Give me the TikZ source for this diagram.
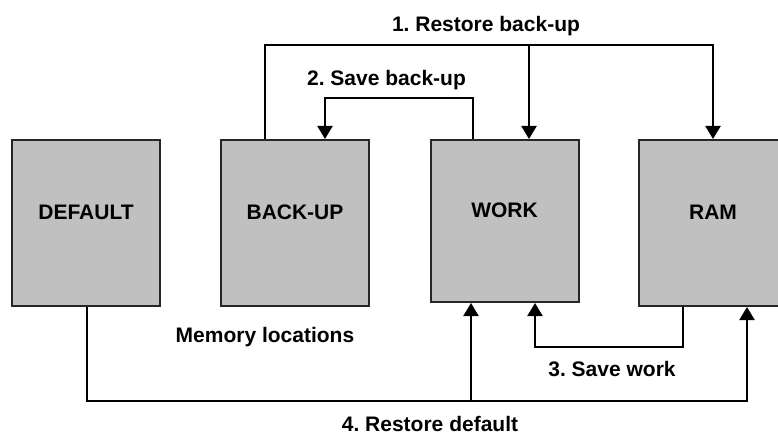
\documentclass[tikz,border=0pt]{standalone}
\usepackage{fontspec}
\setmainfont{Liberation Sans}
\usetikzlibrary{arrows.meta}
\definecolor{boxgrey}{RGB}{192,192,192}
\frenchspacing
\begin{document}
\begin{tikzpicture}[x=1pt,y=-1pt,
  every node/.style={font=\fontsize{21}{25}\selectfont\bfseries},
  membox/.style={draw=black!85, line width=2pt, fill=boxgrey,
    minimum width=148pt, minimum height=166pt, inner sep=0pt},
  boxlabel/.style={yshift=10.5pt, inner sep=0pt},
  flow/.style={line width=2.2pt},
  flowarrow/.style={flow, -{Triangle[width=15pt,length=13pt]}},
  caption/.style={anchor=base, inner sep=0pt}
]
\useasboundingbox (0,0) rectangle (778,435);

% memory blocks
\node[membox, label={[boxlabel]center:DEFAULT}] (default) at (86,223) {};
\node[membox, label={[boxlabel]center:BACK-UP}] (backup)  at (295,223) {};
\node[membox, minimum height=162pt, label={[boxlabel]center:WORK}] (work) at (504.5,221) {};
\node[membox, label={[boxlabel]center:RAM}] (ram) at (713,223) {};

% 1. restore back-up: BACK-UP -> WORK and RAM
\coordinate (r1a) at ([xshift=-30pt]backup.north |- 0,45);
\coordinate (r1b) at ([xshift=24.5pt]work.north |- 0,45);
\coordinate (r1c) at (ram.north |- 0,45);
\draw[flowarrow] ([xshift=-30pt]backup.north) -- (r1a) -- (r1c) -- (ram.north);
\draw[flowarrow] (r1b) -- ([xshift=24.5pt]work.north);

% 2. save back-up: WORK -> BACK-UP
\coordinate (s2a) at ([xshift=-31.5pt]work.north |- 0,98);
\coordinate (s2b) at ([xshift=30pt]backup.north |- 0,98);
\draw[flowarrow] ([xshift=-31.5pt]work.north) -- (s2a) -- (s2b) -- ([xshift=30pt]backup.north);

% 3. save work: RAM -> WORK
\coordinate (s3a) at ([xshift=-30pt]ram.south |- 0,347);
\coordinate (s3b) at ([xshift=30.5pt]work.south |- 0,347);
\draw[flowarrow] ([xshift=-30pt]ram.south) -- (s3a) -- (s3b) -- ([xshift=30.5pt]work.south);

% 4. restore default: DEFAULT -> WORK and RAM
\coordinate (d4a) at ([xshift=1pt]default.south |- 0,401);
\coordinate (d4b) at ([xshift=-33.5pt]work.south |- 0,401);
\coordinate (d4c) at ([xshift=34pt]ram.south |- 0,401);
\draw[flowarrow] ([xshift=1pt]default.south) -- (d4a) -- (d4c) -- ([xshift=34pt]ram.south);
\draw[flowarrow] (d4b) -- ([xshift=-33.5pt]work.south);

% captions
\node[caption] (t1) at (486,32) {1. Restore back-up};
\node[caption] (t2) at (386.5,86) {2. Save back-up};
\node[caption] (t3) at (612,376) {3. Save work};
\node[caption] (t4) at (430,431.5) {4. Restore default};
\node[caption] (tm) at (265,342) {Memory locations};
\end{tikzpicture}
\end{document}
